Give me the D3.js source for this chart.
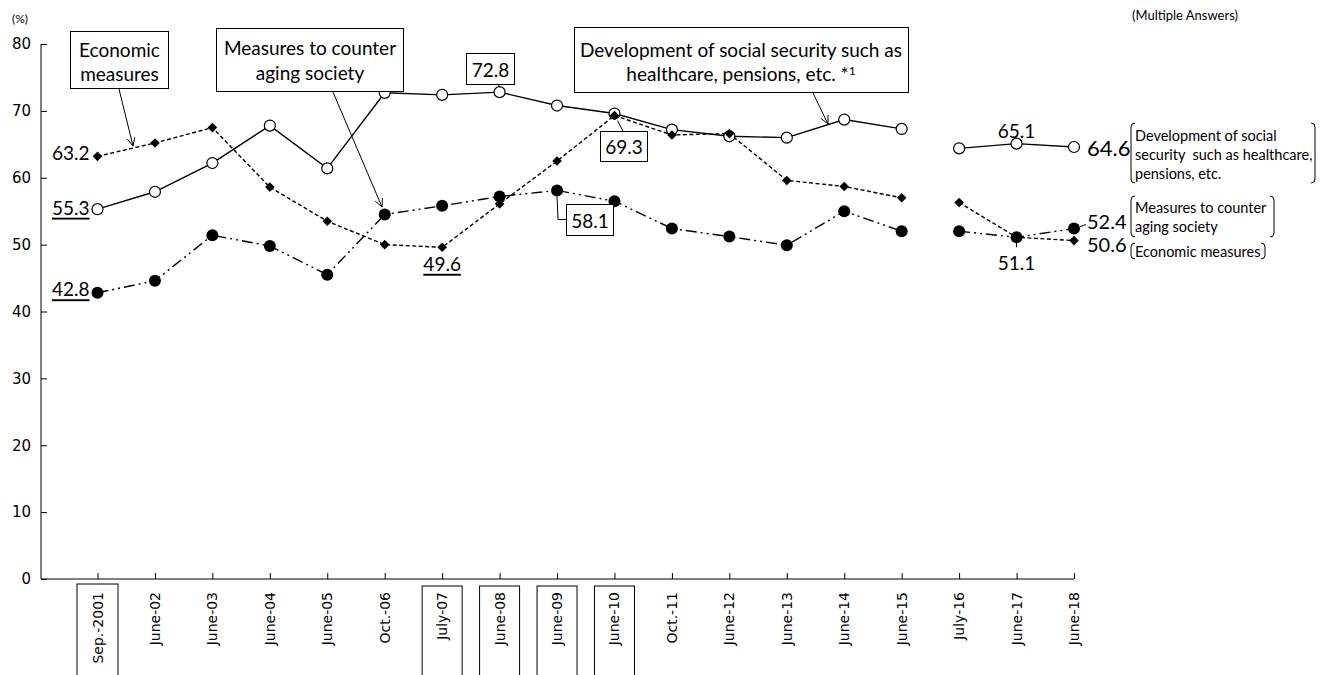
<!DOCTYPE html>
<html><head><meta charset="utf-8">
<script src="https://cdn.jsdelivr.net/npm/d3@7"></script>
<style>
body{margin:0;background:#fff;}
svg{display:block;}
text{fill:#000;}
</style></head>
<body>
<svg id="c" width="1328" height="675"></svg>
<script>
const categories = ["Sep.-2001","June-02","June-03","June-04","June-05","Oct.-06","July-07","June-08","June-09","June-10","Oct.-11","June-12","June-13","June-14","June-15","July-16","June-17","June-18"];
const boxedCategories = ["Sep.-2001","July-07","June-08","June-09","June-10"];
const socialSecurity = [55.3,57.9,62.2,67.8,61.4,72.7,72.4,72.8,70.8,69.6,67.2,66.2,66.0,68.7,67.3,64.4,65.1,64.6];
const economic = [63.2,65.2,67.5,58.6,53.5,50.0,49.6,56.1,62.5,69.3,66.4,66.6,59.6,58.7,57.0,56.3,51.1,50.6];
const aging = [42.8,44.6,51.4,49.8,45.5,54.5,55.8,57.2,58.1,56.5,52.4,51.2,49.9,55.0,52.0,52.0,51.1,52.4];
const yTicks = [0,10,20,30,40,50,60,70,80];
const breakAfter = 14; // gap between June-15 and July-16

const svg = d3.select("#c");
const ANN = "Lato, 'Open Sans', sans-serif";
const AX = "'DejaVu Sans', Verdana, sans-serif";

const x = d3.scaleLinear().domain([0,17]).range([97.5,1074]);
const y = d3.scaleLinear().domain([0,80]).range([579,44]);
const x0 = 41;

// Y axis
const ya = svg.append("g").attr("transform",`translate(${x0},0)`)
  .call(d3.axisLeft(y).tickValues(yTicks).tickSize(-6).tickPadding(10));
ya.select(".domain").remove();
ya.selectAll("line").attr("stroke","#000");
ya.selectAll("text").attr("font-family",AX).attr("font-size",15).attr("fill","#000");
svg.append("line").attr("x1",x0).attr("x2",x0).attr("y1",y(80)).attr("y2",y(0)).attr("stroke","#000");

// X axis
const xa = svg.append("g").attr("transform",`translate(0,${y(0)})`)
  .call(d3.axisBottom(x).tickValues(d3.range(categories.length)).tickSize(-6).tickFormat(""));
xa.select(".domain").remove();
xa.selectAll("line").attr("stroke","#000");
svg.append("line").attr("x1",x0).attr("x2",x(17)).attr("y1",y(0)).attr("y2",y(0)).attr("stroke","#000");

const lab = svg.append("g");
categories.forEach((c,i)=>{
  lab.append("text").attr("transform",`translate(${x(i)},592) rotate(-90)`)
    .attr("text-anchor","end").attr("dominant-baseline","central")
    .attr("font-family",AX).attr("font-size",14).text(c);
  if (boxedCategories.includes(c)) {
    const w = (i===0)?41:40;
    lab.append("rect").attr("x",x(i)-w/2).attr("y",i===0?584:586).attr("width",w).attr("height",100)
      .attr("fill","none").attr("stroke","#000").attr("stroke-width",1);
  }
});

// lines
function seg(vals){
  const pts = vals.map((v,i)=>[x(i),y(v)]);
  return [pts.slice(0,breakAfter+1), pts.slice(breakAfter+1)];
}
const line = d3.line();
function drawSeries(vals, dash){
  seg(vals).forEach(p=>{
    svg.append("path").attr("d",line(p)).attr("fill","none").attr("stroke","#000")
      .attr("stroke-width",1.4).attr("stroke-dasharray",dash);
  });
}
drawSeries(socialSecurity,null);
drawSeries(aging,"11,4,2,4,2,4");
drawSeries(economic,"4,2.5");

// markers
svg.append("g").selectAll("circle").data(socialSecurity).join("circle")
  .attr("cx",(d,i)=>x(i)).attr("cy",d=>y(d)).attr("r",5.5)
  .attr("fill","#fff").attr("stroke","#000").attr("stroke-width",1.2);
svg.append("g").selectAll("circle").data(aging).join("circle")
  .attr("cx",(d,i)=>x(i)).attr("cy",d=>y(d)).attr("r",6).attr("fill","#000");
svg.append("g").selectAll("path").data(economic).join("path")
  .attr("d",d3.symbol().type(d3.symbolSquare).size(46))
  .attr("transform",(d,i)=>`translate(${x(i)},${y(d)}) rotate(45)`).attr("fill","#000");

// annotation helpers
function txt(t,xx,yy,size,anchor="middle",opts={}){
  const e = svg.append("text").attr("x",xx).attr("y",yy).attr("font-family",ANN)
    .attr("font-size",size).attr("text-anchor",anchor).attr("dominant-baseline","central").text(t);
  if(opts.underline) e.attr("text-decoration","underline");
  return e;
}
function box(x1,y1,x2,y2){
  svg.append("rect").attr("x",x1).attr("y",y1).attr("width",x2-x1).attr("height",y2-y1)
    .attr("fill","#fff").attr("stroke","#000").attr("stroke-width",1);
}
function seg2(pts){
  svg.append("path").attr("d",d3.line()(pts)).attr("fill","none").attr("stroke","#000").attr("stroke-width",1);
}
function arrow(x1,y1,x2,y2){
  seg2([[x1,y1],[x2,y2]]);
  const a = Math.atan2(y2-y1,x2-x1), L=9, s=0.45;
  seg2([[x2-L*Math.cos(a-s),y2-L*Math.sin(a-s)],[x2,y2],[x2-L*Math.cos(a+s),y2-L*Math.sin(a+s)]]);
}

// header texts
txt("(%)",20,18,12);
txt("(Multiple Answers)",1185,15,13);

const F = 19;
// callout boxes
box(70.5,31.5,168.5,88.5);
txt("Economic",119.5,49,F); txt("measures",119.5,73,F);
arrow(119,89,133,146);

box(216.5,28.5,403.5,91.5);
txt("Measures to counter",310,47,F); txt("aging society",310,72,F);
arrow(333,92,382,207);

box(574.5,27.5,908.5,92.5);
txt("Development of social security such as",741,49,F);
const t2 = svg.append("text").attr("x",741).attr("y",73).attr("font-family",ANN).attr("font-size",F)
  .attr("text-anchor","middle").attr("dominant-baseline","central");
t2.append("tspan").text("healthcare, pensions, etc. *");
t2.append("tspan").attr("font-size",12).attr("dy",-3).text("1");
arrow(813,93,828,124);

// value labels
seg2([[497,84],[x(7)+1,y(72.8)-5]]);
box(466.5,53.5,514.5,84.5); txt("72.8",490.5,69,F);

seg2([[623,131],[x(9)+3,y(69.3)+5]]);
box(600.5,131.5,647.5,161.5); txt("69.3",624,146,F);

seg2([[x(8),y(58.1)+6],[558,219.5],[566,219.5]]);
box(566.5,204.5,613.5,235.5); txt("58.1",590,220,F);

txt("63.2",x(0)-8,y(63.2)-4,F,"end");
txt("55.3",x(0)-8,y(55.3)-2,F,"end",{underline:true});
txt("42.8",x(0)-8,y(42.8)-4,F,"end",{underline:true});
txt("49.6",x(6),y(49.6)+16,F,"middle",{underline:true});
txt("65.1",x(16),y(65.1)-13,F);
seg2([[x(16),y(51.1)+5],[x(16),y(51.1)+10]]);
txt("51.1",x(16),y(51.1)+25,F);

txt("64.6",1087,y(64.6)+1,22,"start");
seg2([[x(17)+6,y(52.4)-2],[x(17)+12,y(52.4)-4]]);
txt("52.4",1087,y(52.4)-8,20,"start");
txt("50.6",1087,y(50.6)+3,20,"start");

// bracket legends
function bracket(x1,x2,y1,y2){
  const r=4;
  svg.append("path").attr("d",`M${x1+r},${y1} Q${x1},${y1} ${x1},${y1+r} L${x1},${y2-r} Q${x1},${y2} ${x1+r},${y2}`)
    .attr("fill","none").attr("stroke","#000").attr("stroke-width",1);
  svg.append("path").attr("d",`M${x2-r},${y1} Q${x2},${y1} ${x2},${y1+r} L${x2},${y2-r} Q${x2},${y2} ${x2-r},${y2}`)
    .attr("fill","none").attr("stroke","#000").attr("stroke-width",1);
}
const B = 14.5;
bracket(1131,1315,123,183);
txt("Development of social",1135,135,B,"start");
txt("security  such as healthcare,",1135,154,B,"start").style("white-space","pre");
txt("pensions, etc.",1135,173,B,"start");
bracket(1131,1274,196,237);
txt("Measures to counter",1135,207,B,"start");
txt("aging society",1135,226,B,"start");
bracket(1131,1265,243,259);
txt("Economic measures",1135,251,B,"start");
</script>
</body></html>
